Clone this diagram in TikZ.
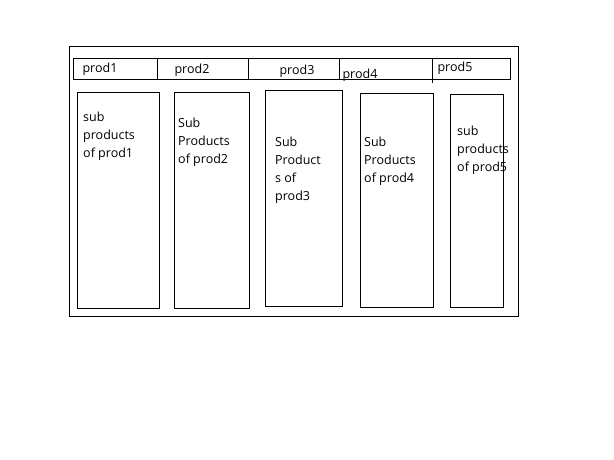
\documentclass[tikz,border=0pt]{standalone}
\usepackage{fontspec}
\setmainfont{Open Sans}
\usepackage{tikz}
\usetikzlibrary{positioning}
\tikzset{
  colbox/.style={draw, line width=1pt, anchor=north west, inner sep=0pt},
  subtext/.style={anchor=north west, align=left, inner sep=0pt, font=\fontsize{12.5}{18}\selectfont},
  prodtext/.style={inner sep=0pt, font=\fontsize{12.5}{14}\selectfont}
}

\begin{document}
\begin{tikzpicture}[x=1pt, y=-1pt]
  \useasboundingbox[fill=white] (0,0) rectangle (614,460);
  % outer frame and tab bar
  \node[colbox, minimum width=449pt, minimum height=270pt] (frame) at (69,46) {};
  \node[colbox, minimum width=437pt, minimum height=21pt] (bar) at (73,58) {};
  \draw[line width=1pt] (157,58) -- (157,79);
  \draw[line width=1pt] (248,58) -- (248,79);
  \draw[line width=1pt] (339,58) -- (339,80);
  \draw[line width=1pt] (432,58) -- (432,83);
  \node[prodtext] (p1) at (100,69) {prod1};
  \node[prodtext] (p2) at (192,70) {prod2};
  \node[prodtext] (p3) at (297,71) {prod3};
  \node[prodtext] (p4) at (360,75) {prod4};
  \node[prodtext] (p5) at (455,68) {prod5};
  % columns
  \node[colbox, minimum width=82pt, minimum height=216pt] (c1) at (77,92) {};
  \node[colbox, minimum width=75pt, minimum height=216pt] (c2) at (174,92) {};
  \node[colbox, minimum width=77pt, minimum height=216pt] (c3) at (265,90) {};
  \node[colbox, minimum width=73pt, minimum height=214pt] (c4) at (360,93) {};
  \node[colbox, minimum width=53pt, minimum height=213pt] (c5) at (450,94) {};
  \node[subtext] (s1) at (83,112) {sub\\products\\of prod1};
  \node[subtext] (s2) at (178,118) {Sub\\Products\\of prod2};
  \node[subtext] (s3) at (275,137) {Sub\\Product\\s of\\prod3};
  \node[subtext] (s4) at (364,137) {Sub\\Products\\of prod4};
  \node[subtext] (s5) at (457,126) {sub\\products\\of prod5};
\end{tikzpicture}
\end{document}
